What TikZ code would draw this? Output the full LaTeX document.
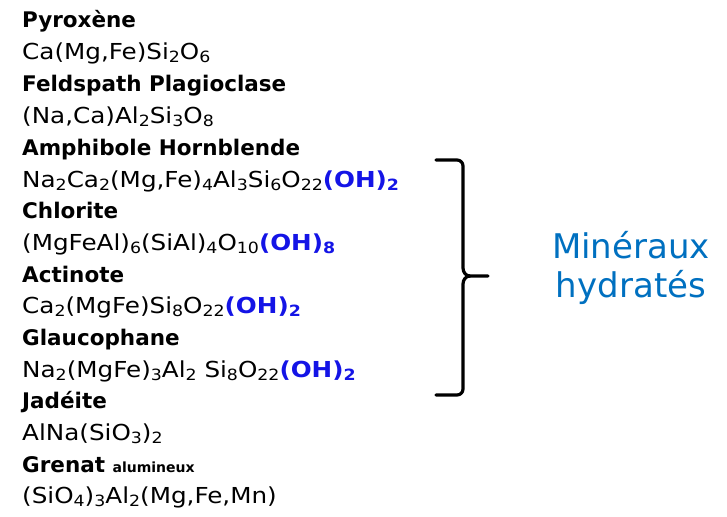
\documentclass[tikz,border=0pt]{standalone}
\usepackage{fontspec}
\setmainfont{DejaVu Sans}
\newfontfamily\formfont{DejaVu Sans}[FakeStretch=1.12]
\usepackage{xcolor}
\definecolor{bleuOH}{RGB}{20,20,230}
\definecolor{bleuTitre}{RGB}{0,112,192}
\newcommand{\ind}[1]{\raisebox{-3pt}{\fontsize{15.5}{17}\selectfont #1}}
\newcommand{\OH}[1]{\textcolor{bleuOH}{\textbf{(OH)\ind{#1}}}}

\begin{document}
\begin{tikzpicture}[x=1pt,y=-1pt,
      nom/.style={anchor=base west, inner sep=0pt, font=\fontsize{21.5}{24}\selectfont\bfseries},
      formule/.style={anchor=base west, inner sep=0pt, font=\formfont\fontsize{22}{24}\selectfont},
      titre/.style={anchor=base, inner sep=0pt, align=center, text=bleuTitre,
        font=\fontsize{34}{39}\selectfont}]
    \useasboundingbox (0,0) rectangle (727,516);
    \node[nom] (pyr) at (22,28) {Pyroxène};
    \node[formule] (fpyr) at (22,60) {Ca(Mg,Fe)Si\ind{2}O\ind{6}};
    \node[nom] (feld) at (22,92) {Feldspath Plagioclase};
    \node[formule] (ffeld) at (22,123) {(Na,Ca)Al\ind{2}Si\ind{3}O\ind{8}};
    \node[nom] (amph) at (22,155) {Amphibole Hornblende};
    \node[formule] (famph) at (22,187) {Na\ind{2}Ca\ind{2}(Mg,Fe)\ind{4}Al\ind{3}Si\ind{6}O\ind{22}\OH{2}};
    \node[nom] (chlo) at (22,218) {Chlorite};
    \node[formule] (fchlo) at (22,250) {(MgFeAl)\ind{6}(SiAl)\ind{4}O\ind{10}\OH{8}};
    \node[nom] (acti) at (22,282) {Actinote};
    \node[formule] (facti) at (22,313) {Ca\ind{2}(MgFe)Si\ind{8}O\ind{22}\OH{2}};
    \node[nom] (glau) at (22,345) {Glaucophane};
    \node[formule] (fglau) at (22,377) {Na\ind{2}(MgFe)\ind{3}Al\ind{2} Si\ind{8}O\ind{22}\OH{2}};
    \node[nom] (jade) at (22,408) {Jadéite};
    \node[formule] (fjade) at (22,440) {AlNa(SiO\ind{3})\ind{2}};
    \node[nom] (gren) at (22,472) {Grenat {\fontsize{14}{15}\selectfont alumineux}};
    \node[formule] (fgren) at (22,503) {(SiO\ind{4})\ind{3}Al\ind{2}(Mg,Fe,Mn)};
    % accolade
    \draw[line width=3.2pt, line cap=round, line join=round]
      (436,160) -- (457,160) to[out=0,in=90] (463,166) -- (463,268)
      to[out=-90,in=180] (470,276) -- (488,276);
    \draw[line width=3.2pt, line cap=round, line join=round]
      (470,276) to[out=180,in=90] (463,284) -- (463,389)
      to[out=-90,in=0] (457,395) -- (436,395);
    \node[titre] (hydr) at (631,297) {Minéraux\\hydratés};
\end{tikzpicture}
\end{document}
